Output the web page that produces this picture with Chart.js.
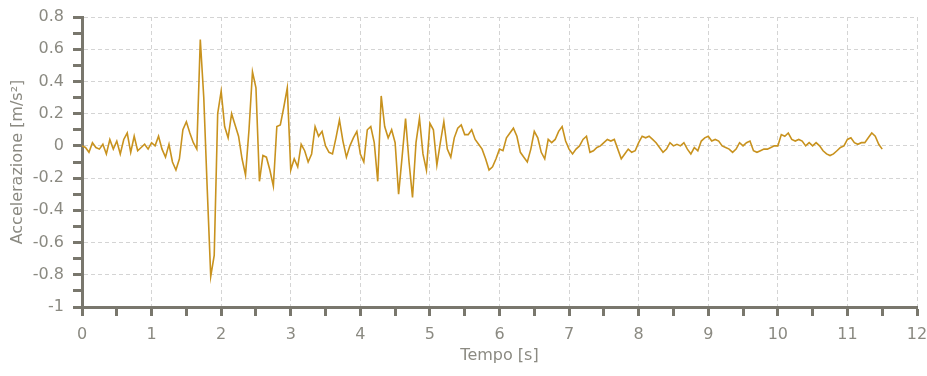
<!DOCTYPE html>
<html lang="it">

<head>
    <meta charset="UTF-8" />
    <title>Accelerazione</title>
    <script src="https://cdn.jsdelivr.net/npm/chart.js"></script>
    <style>
        html, body { margin: 0; padding: 0; background: #ffffff; }
        #wrap { width: 927px; height: 376px; }
    </style>
</head>

<body>
    <div id="wrap"><canvas id="accChart"></canvas></div>

    <script>
        // campioni ogni 0.05 s, da 0 a 11.5 s (una riga = 1 secondo)
        const sampleStep = 0.05;
        const accValues = [
            0.00, -0.01, -0.04, 0.02, -0.01, -0.02, 0.01, -0.05, 0.04, -0.02, 0.03, -0.05, 0.04, 0.08, -0.04, 0.06, -0.03, -0.01, 0.01, -0.02,
            0.02, 0.00, 0.06, -0.02, -0.07, 0.01, -0.10, -0.15, -0.08, 0.10, 0.15, 0.08, 0.02, -0.02, 0.66, 0.30, -0.27, -0.81, -0.68, 0.20,
            0.34, 0.12, 0.05, 0.20, 0.13, 0.06, -0.08, -0.18, 0.10, 0.46, 0.36, -0.22, -0.06, -0.07, -0.15, -0.25, 0.12, 0.13, 0.24, 0.36,
            -0.15, -0.08, -0.13, 0.01, -0.03, -0.10, -0.05, 0.12, 0.06, 0.09, 0.00, -0.04, -0.05, 0.05, 0.16, 0.03, -0.07, 0.00, 0.05, 0.09,
            -0.05, -0.10, 0.10, 0.12, 0.02, -0.22, 0.31, 0.12, 0.05, 0.10, 0.02, -0.30, -0.07, 0.17, -0.10, -0.32, 0.02, 0.17, -0.05, -0.15,
            0.14, 0.10, -0.12, 0.02, 0.15, -0.02, -0.07, 0.05, 0.11, 0.13, 0.07, 0.07, 0.10, 0.04, 0.01, -0.02, -0.08, -0.15, -0.13, -0.08,
            -0.02, -0.03, 0.05, 0.08, 0.11, 0.06, -0.04, -0.07, -0.10, -0.02, 0.09, 0.05, -0.04, -0.08, 0.04, 0.02, 0.04, 0.09, 0.12, 0.03,
            -0.02, -0.05, -0.02, 0.00, 0.04, 0.06, -0.04, -0.03, -0.01, 0.00, 0.02, 0.04, 0.03, 0.04, -0.02, -0.08, -0.05, -0.02, -0.04, -0.03,
            0.02, 0.06, 0.05, 0.06, 0.04, 0.02, -0.01, -0.04, -0.02, 0.02, 0.00, 0.01, 0.00, 0.02, -0.02, -0.05, -0.01, -0.03, 0.03, 0.05,
            0.06, 0.03, 0.04, 0.03, 0.00, -0.01, -0.02, -0.04, -0.02, 0.02, 0.00, 0.02, 0.03, -0.03, -0.04, -0.03, -0.02, -0.02, -0.01, 0.00,
            0.00, 0.07, 0.06, 0.08, 0.04, 0.03, 0.04, 0.03, 0.00, 0.02, 0.00, 0.02, 0.00, -0.03, -0.05, -0.06, -0.05, -0.03, -0.01, 0.00,
            0.04, 0.05, 0.02, 0.01, 0.02, 0.02, 0.05, 0.08, 0.06, 0.01, -0.02
        ];
        const xRange = [0, 12];
        const yRange = [-1, 0.8];
        const xTitle = 'Tempo [s]';
        const yTitle = 'Accelerazione [m/s²]';

        const axisColor = '#79776d';
        const textColor = '#8b8a82';
        const gridColor = '#d4d4d4';
        const fontFamily = 'DejaVu Sans';

        const points = accValues.map((v, i) => ({ x: i * sampleStep, y: v }));

        function isMajorX(v) { return Math.abs(v - Math.round(v)) < 1e-6; }
        function isMajorY(v) { return Math.round(v * 10) % 2 === 0; }

        new Chart(document.getElementById('accChart'), {
            type: 'line',
            data: {
                datasets: [{
                    data: points,
                    borderColor: '#c8921e',
                    borderWidth: 1.6,
                    pointRadius: 0,
                    tension: 0,
                    fill: false
                }]
            },
            options: {
                responsive: true,
                maintainAspectRatio: false,
                animation: false,
                layout: { padding: { top: 17, right: 10, left: 0, bottom: 0 } },
                plugins: { legend: { display: false }, tooltip: { enabled: false } },
                scales: {
                    x: {
                        type: 'linear',
                        min: xRange[0],
                        max: xRange[1],
                        afterFit: (scale) => {
                            scale.height = 69;
                            scale.paddingLeft = 0;
                            scale.paddingRight = 0;
                        },
                        ticks: {
                            stepSize: 0.5,
                            autoSkip: false,
                            maxRotation: 0,
                            padding: 9,
                            color: textColor,
                            font: { family: fontFamily, size: 16 },
                            callback: (v) => isMajorX(v) ? String(Math.round(v)) : ''
                        },
                        grid: {
                            color: (ctx) => ctx.tick && isMajorX(ctx.tick.value) ? gridColor : 'rgba(0,0,0,0)',
                            tickColor: axisColor,
                            tickWidth: 3,
                            tickLength: 9,
                            lineWidth: 1
                        },
                        border: { color: axisColor, width: 3, dash: [4, 3] },
                        title: {
                            display: true,
                            text: xTitle,
                            color: textColor,
                            font: { family: fontFamily, size: 16 },
                            padding: { top: 0, bottom: 11 }
                        }
                    },
                    y: {
                        min: yRange[0],
                        max: yRange[1],
                        afterFit: (scale) => {
                            scale.width = 82;
                            scale.paddingTop = 0;
                            scale.paddingBottom = 0;
                        },
                        ticks: {
                            stepSize: 0.1,
                            autoSkip: false,
                            padding: 9,
                            color: textColor,
                            font: { family: fontFamily, size: 16 },
                            callback: (v) => isMajorY(v) ? String(Math.round(v * 10) / 10) : ''
                        },
                        grid: {
                            color: (ctx) => ctx.tick && isMajorY(ctx.tick.value) ? gridColor : 'rgba(0,0,0,0)',
                            tickColor: axisColor,
                            tickWidth: 3,
                            tickLength: 9,
                            lineWidth: 1
                        },
                        border: { color: axisColor, width: 3, dash: [4, 3] },
                        title: {
                            display: true,
                            text: yTitle,
                            color: textColor,
                            font: { family: fontFamily, size: 16 },
                            padding: { top: 8, bottom: 0 }
                        }
                    }
                }
            }
        });
    </script>
</body>

</html>
